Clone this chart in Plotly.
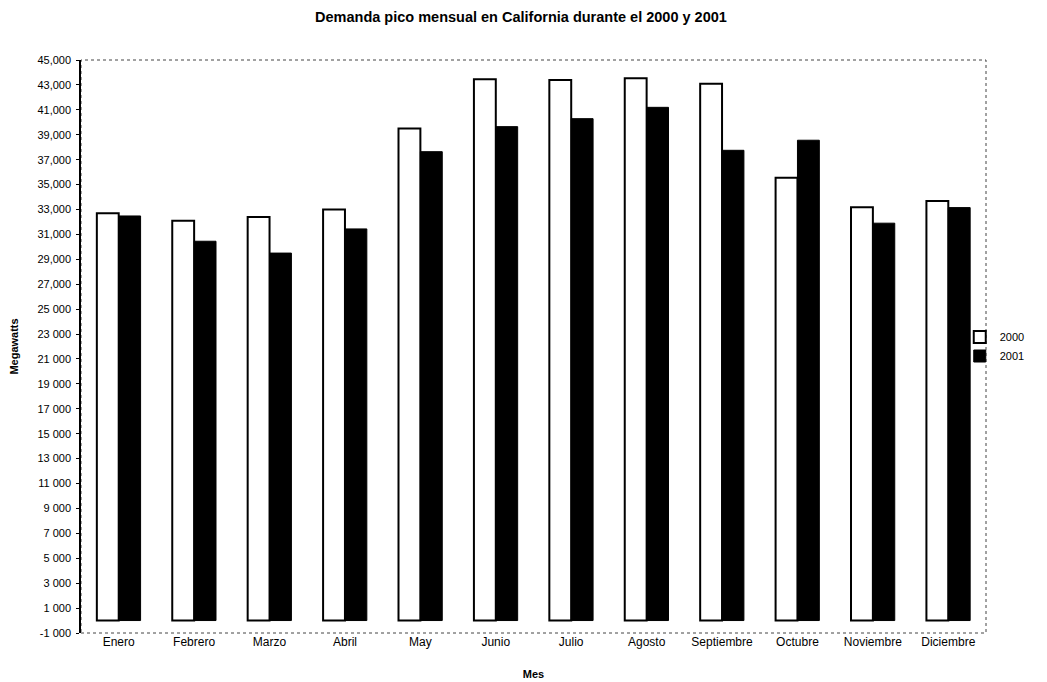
import plotly.graph_objects as go

meses = ["Enero", "Febrero", "Marzo", "Abril", "May", "Junio", "Julio",
         "Agosto", "Septiembre", "Octubre", "Noviembre", "Diciembre"]
demanda_2000 = [32700, 32100, 32400, 33000, 39500, 43450, 43400, 43530, 43100, 35550, 33180, 33680]
demanda_2001 = [32480, 30450, 29500, 31440, 37640, 39650, 40290, 41200, 37750, 38560, 31900, 33150]
y_ticks = list(range(-1000, 45001, 2000))
y_ticktext = ["-1 000", "1 000", "3 000", "5 000", "7 000", "9 000", "11 000", "13 000",
              "15 000", "17 000", "19 000", "21 000", "23 000", "25 000", "27,000",
              "29,000", "31,000", "33,000", "35,000", "37,000", "39,000", "41,000",
              "43,000", "45,000"]

FONT = "Liberation Sans, Arial, sans-serif"

fig = go.Figure()
fig.add_trace(go.Bar(x=meses, y=demanda_2000, name="2000",
                     marker=dict(color="white", line=dict(color="black", width=2))))
fig.add_trace(go.Bar(x=meses, y=demanda_2001, name="2001",
                     marker=dict(color="black", line=dict(color="black", width=1))))

fig.update_layout(
    width=1039, height=674,
    paper_bgcolor="white", plot_bgcolor="white",
    margin=dict(l=73, r=61, t=52, b=49, autoexpand=False),
    barmode="group", bargap=0.42, bargroupgap=0,
    font=dict(family=FONT, color="black", size=11),
    title=dict(text="<b>Demanda pico mensual en California durante el 2000 y 2001</b>",
               x=0.4937, xanchor="center", y=0.987, yanchor="middle",
               font=dict(family=FONT, size=14.5, color="black")),
    legend=dict(x=0.971, xanchor="left", y=0.5, yanchor="middle",
                font=dict(family=FONT, size=11, color="black"),
                itemwidth=30, tracegroupgap=0, bgcolor="rgba(0,0,0,0)"),
    xaxis=dict(showgrid=False, showline=False, ticks="", automargin=False,
               tickfont=dict(family=FONT, size=12, color="black"),
               title=dict(text="<b>Mes</b>", font=dict(family=FONT, size=11, color="black"),
                          standoff=22)),
    yaxis=dict(range=[-1000, 45000], showgrid=False, zeroline=False, automargin=False,
               showline=True, linecolor="black", linewidth=1.5,
               ticks="outside", ticklen=3, tickcolor="black", ticklabelstandoff=3,
               tickvals=y_ticks, ticktext=y_ticktext,
               tickfont=dict(family=FONT, size=11, color="black"),
               title=dict(text="<b>Megawatts</b>", font=dict(family=FONT, size=11, color="black"),
                          standoff=19)),
    shapes=[dict(type="rect", xref="paper", yref="paper", x0=0, x1=1, y0=0, y1=1,
                 line=dict(color="#444444", width=1, dash="dot"), layer="below")],
)

fig.write_html("out.html")
